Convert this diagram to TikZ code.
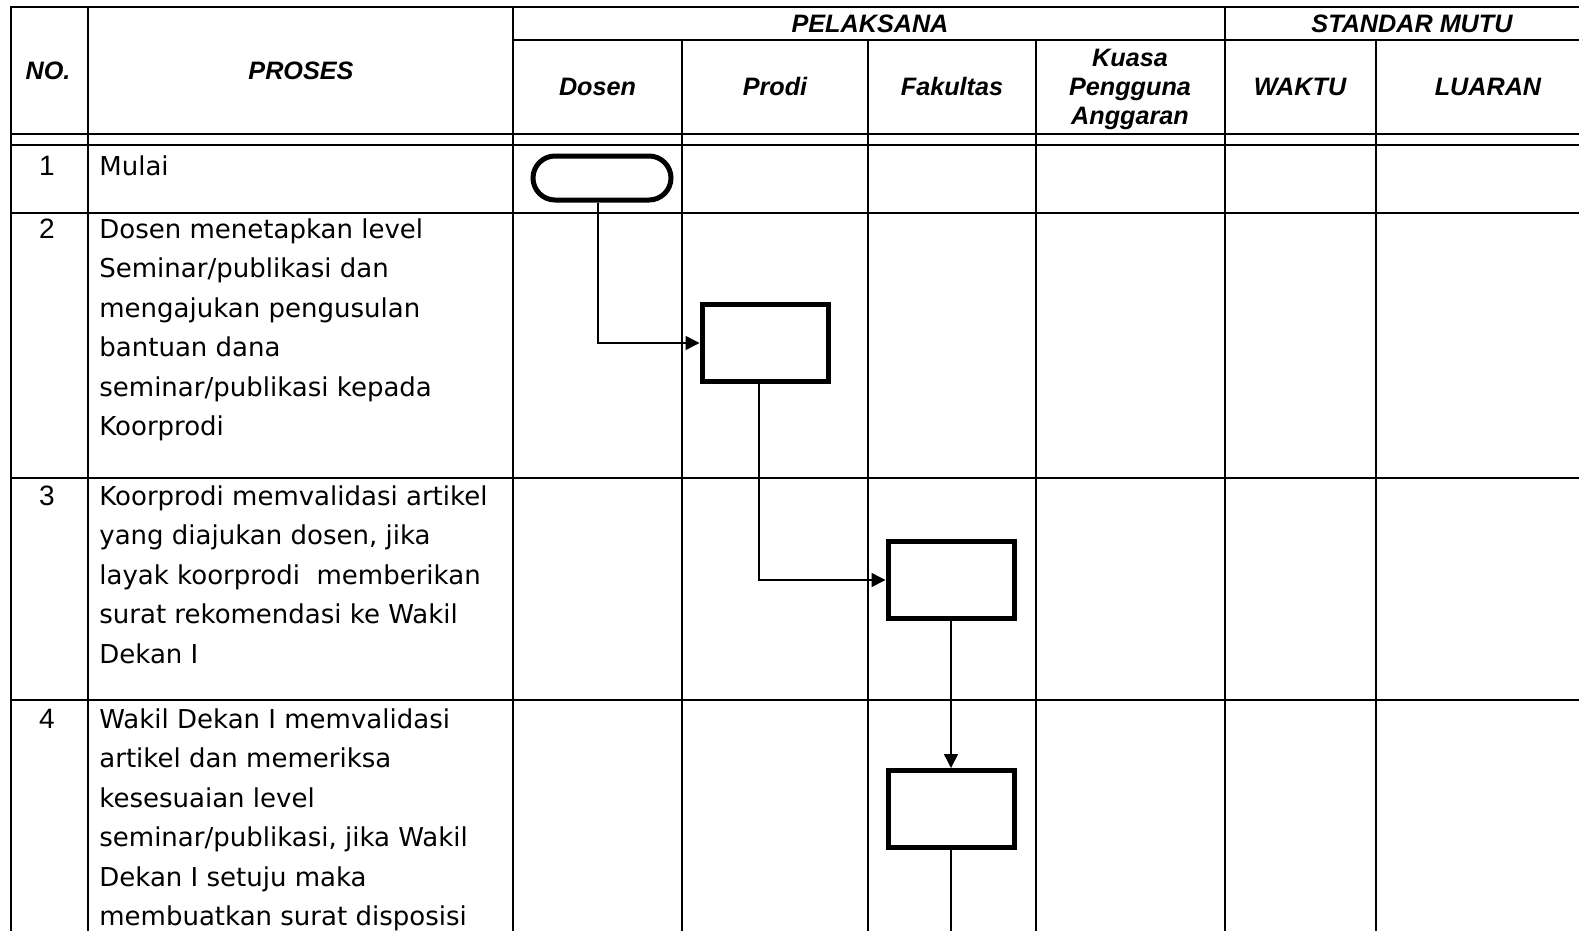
\documentclass[tikz,border=0pt]{standalone}
\usepackage{fontspec}
\setmainfont{DejaVu Sans}
\newfontfamily\hdrfont{Liberation Sans}
\usetikzlibrary{arrows.meta}
\begin{document}
\begin{tikzpicture}[x=0.5pt,y=-0.5pt,
  grid/.style={line width=1pt},
  conn/.style={line width=0.75pt,-{Triangle[length=7pt,width=7pt]}},
  plainconn/.style={line width=0.75pt},
  procbox/.style={draw,line width=2.5pt,minimum width=63pt,minimum height=38.5pt,inner sep=0pt},
  termbox/.style={draw,line width=2.5pt,rounded corners=11pt,minimum width=69pt,minimum height=22pt,inner sep=0pt},
  hdr/.style={font=\hdrfont\bfseries\itshape\fontsize{12.6}{14.5}\selectfont,inner sep=0pt,anchor=base},
  num/.style={font=\hdrfont\fontsize{14}{16}\selectfont,inner sep=0pt,anchor=base},
  txt/.style={font=\fontsize{13}{15}\selectfont,inner sep=0pt,anchor=base west}]

\clip (0,0) rectangle (1579,931);

% table grid
\draw[grid] (11,931) -- (11,7) -- (1600,7);
\draw[grid] (513,40) -- (1600,40);
\draw[grid] (11,134) -- (1600,134);
\draw[grid] (11,145) -- (1600,145);
\foreach \y in {213,478,700} \draw[grid] (11,\y) -- (1600,\y);
\foreach \x in {88,513,1225} \draw[grid] (\x,7) -- (\x,931);
\foreach \x in {682,868,1036,1376} \draw[grid] (\x,40) -- (\x,931);

% header
\node[hdr] (hno) at (48,80) {NO.};
\node[hdr] (hproses) at (301,80) {PROSES};
\node[hdr] (hpel) at (870,33) {PELAKSANA};
\node[hdr] (hstd) at (1412,33) {STANDAR MUTU};
\node[hdr] (hdosen) at (597.5,96) {Dosen};
\node[hdr] (hprodi) at (775,96) {Prodi};
\node[hdr] (hfak) at (952,96) {Fakultas};
\node[hdr] (hkpa1) at (1130,67) {Kuasa};
\node[hdr] (hkpa2) at (1130,96) {Pengguna};
\node[hdr] (hkpa3) at (1130,125) {Anggaran};
\node[hdr] (hwaktu) at (1300,96) {WAKTU};
\node[hdr] (hluaran) at (1488,96) {LUARAN};

% numbers
\node[num] (n1) at (47,176) {1};
\node[num] (n2) at (47,238) {2};
\node[num] (n3) at (47,505) {3};
\node[num] (n4) at (47,728) {4};

% process texts
\node[txt] (r1l1) at (99,176) {Mulai};
\foreach \t [count=\i] in {Dosen menetapkan level,Seminar/publikasi dan,mengajukan pengusulan,bantuan dana,seminar/publikasi kepada,Koorprodi}
  \node[txt] (r2l\i) at (99,{238+39.5*(\i-1)}) {\t};
\foreach \t [count=\i] in {Koorprodi memvalidasi artikel,{yang diajukan dosen, jika},layak koorprodi~ memberikan,surat rekomendasi ke Wakil,Dekan I}
  \node[txt] (r3l\i) at (99,{505+39.5*(\i-1)}) {\t};
\foreach \t [count=\i] in {Wakil Dekan I memvalidasi,artikel dan memeriksa,kesesuaian level,{seminar/publikasi, jika Wakil},Dekan I setuju maka,membuatkan surat disposisi}
  \node[txt] (r4l\i) at (99,{728+39.5*(\i-1)}) {\t};

% flow shapes
\node[termbox] (term) at (602,178) {};
\node[procbox] (box2) at (765,343) {};
\node[procbox] (box3) at (951,580) {};
\node[procbox] (box4) at (951,809) {};
\coordinate (bot) at (951,940);

% connectors
\draw[conn] ([xshift=-2pt]term.south) |- (box2.west);
\draw[conn] ([xshift=-3pt]box2.south) |- (box3.west);
\draw[conn] (box3.south) -- (box4.north);
\draw[plainconn] (box4.south) -- (bot);
\end{tikzpicture}
\end{document}
